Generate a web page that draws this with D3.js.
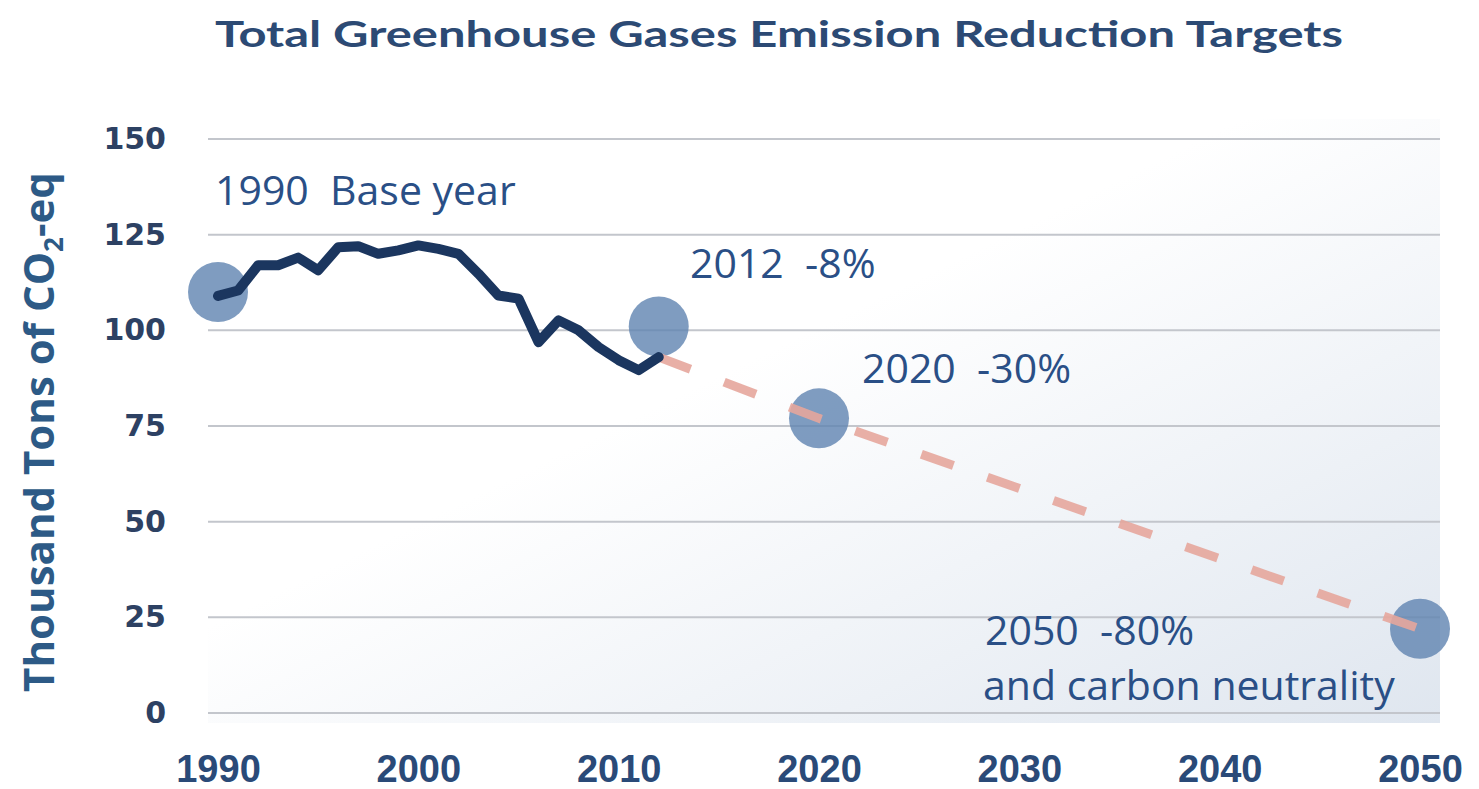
<!DOCTYPE html>
<html>
<head>
<meta charset="utf-8">
<script src="https://cdn.jsdelivr.net/npm/d3@7"></script>
<style>
  html, body { margin: 0; padding: 0; background: #ffffff; }
  svg { display: block; }
</style>
</head>
<body>
<svg id="chart"></svg>
<script>
var years = [1990, 1991, 1992, 1993, 1994, 1995, 1996, 1997, 1998, 1999, 2000, 2001,
  2002, 2003, 2004, 2005, 2006, 2007, 2008, 2009, 2010, 2011, 2012];
var emissions = [109, 110.4, 117, 117, 119, 115.7, 121.7, 122, 120, 120.9, 122.2, 121.3,
  120, 114.8, 109.1, 108.3, 96.9, 102.6, 100, 95.6, 92.2, 89.6, 93];

var pathYears = [2012, 2020, 2050];
var pathValues = [93, 77, 22];

var targetYears = [1990, 2012, 2020, 2050];
var targetValues = [110, 101, 77, 22];
var targetLabels = [['1990  Base year'], ['2012  -8%'], ['2020  -30%'], ['2050  -80%', 'and carbon neutrality']];

var yTicks = [0, 25, 50, 75, 100, 125, 150];
var xTicks = [1990, 2000, 2010, 2020, 2030, 2040, 2050];

var width = 1479;
var height = 789;

var x = d3.scaleLinear().domain([1990, 2050]).range([218, 1420]);
var y = d3.scaleLinear().domain([0, 150]).range([713, 139]);

var svg = d3.select('#chart').attr('width', width).attr('height', height);

// background wash behind the plot
var defs = svg.append('defs');
var grad = defs.append('linearGradient')
  .attr('id', 'wash')
  .attr('x1', '0').attr('y1', '0').attr('x2', '1').attr('y2', '1');
grad.append('stop').attr('offset', '0.42').attr('stop-color', '#ffffff');
grad.append('stop').attr('offset', '1').attr('stop-color', '#dfe6ef');

svg.append('rect')
  .attr('x', x(1990) - 10).attr('y', y(150) - 20)
  .attr('width', x(2050) + 20 - (x(1990) - 10))
  .attr('height', y(0) + 10 - (y(150) - 20))
  .attr('fill', 'url(#wash)');

svg.append('text')
  .attr('x', 779).attr('y', 47)
  .attr('text-anchor', 'middle')
  .attr('font-family', 'Lato, sans-serif')
  .attr('font-weight', 'bold')
  .attr('font-size', 37)
  .attr('fill', '#2c4a74')
  .attr('textLength', 1128)
  .attr('lengthAdjust', 'spacingAndGlyphs')
  .text('Total Greenhouse Gases Emission Reduction Targets');

// gridlines
svg.append('g').selectAll('line')
  .data(yTicks)
  .enter().append('line')
  .attr('x1', x(1990) - 10).attr('x2', x(2050) + 20)
  .attr('y1', function(d) { return y(d); })
  .attr('y2', function(d) { return y(d); })
  .attr('stroke', '#c3c6cc')
  .attr('stroke-width', 2);

var yAxis = svg.append('g')
  .attr('transform', 'translate(180,0)')
  .call(d3.axisLeft(y).tickValues(yTicks).tickSize(0).tickPadding(14));
yAxis.select('.domain').remove();
yAxis.selectAll('text')
  .attr('font-family', '"DejaVu Sans", sans-serif')
  .attr('font-weight', 'bold')
  .attr('font-size', 30)
  .attr('fill', '#2d4163');

var xAxis = svg.append('g')
  .attr('transform', 'translate(0,' + (y(0) + 30) + ')')
  .call(d3.axisBottom(x).tickValues(xTicks).tickFormat(d3.format('d')).tickSize(0).tickPadding(12));
xAxis.select('.domain').remove();
xAxis.selectAll('text')
  .attr('font-family', '"Liberation Sans", sans-serif')
  .attr('font-weight', 'bold')
  .attr('font-size', 38)
  .attr('fill', '#2a4a78');

var yLabel = svg.append('text')
  .attr('transform', 'translate(54,' + 432 + ') rotate(-90)')
  .attr('text-anchor', 'middle')
  .attr('font-family', '"Open Sans", sans-serif')
  .attr('font-weight', 'bold')
  .attr('font-size', 42)
  .attr('fill', '#2d5a86');
yLabel.append('tspan').text('Thousand Tons of CO');
yLabel.append('tspan').attr('font-size', 26).attr('dy', 9).text('2');
yLabel.append('tspan').attr('dy', -9).text('-eq');

// target circles
var targets = targetYears.map(function(yr, i) {
  return { year: yr, value: targetValues[i], label: targetLabels[i] };
});

svg.append('g').selectAll('circle')
  .data(targets)
  .enter().append('circle')
  .attr('cx', function(d) { return x(d.year); })
  .attr('cy', function(d) { return y(d.value); })
  .attr('r', 30)
  .attr('fill', '#5f83b0')
  .attr('fill-opacity', 0.8);

var line = d3.line()
  .x(function(d) { return x(d[0]); })
  .y(function(d) { return y(d[1]); });

svg.append('path')
  .datum(pathYears.map(function(yr, i) { return [yr, pathValues[i]]; }))
  .attr('d', line)
  .attr('fill', 'none')
  .attr('stroke', '#e5a69c')
  .attr('stroke-width', 9)
  .attr('stroke-dasharray', '34 36')
  .attr('stroke-opacity', 0.9);

svg.append('path')
  .datum(years.map(function(yr, i) { return [yr, emissions[i]]; }))
  .attr('d', line)
  .attr('fill', 'none')
  .attr('stroke', '#1b365f')
  .attr('stroke-width', 10)
  .attr('stroke-linejoin', 'round')
  .attr('stroke-linecap', 'round');

// annotations
var labelPos = [[215, 205], [690, 278], [862, 383], [985, 645]];
var notes = svg.append('g')
  .attr('font-family', '"Open Sans", sans-serif')
  .attr('font-size', 41)
  .attr('fill', '#2a4f86');

notes.selectAll('text')
  .data(targets)
  .enter().append('text')
  .attr('x', function(d, i) { return labelPos[i][0]; })
  .attr('y', function(d, i) { return labelPos[i][1]; })
  .each(function(d, i) {
    var t = d3.select(this);
    d.label.forEach(function(s, j) {
      t.append('tspan')
        .attr('x', labelPos[i][0] - (j ? 2 : 0))
        .attr('dy', j ? 55 : 0)
        .attr('xml:space', 'preserve')
        .style('white-space', 'pre')
        .text(s);
    });
  });
</script>
</body>
</html>
